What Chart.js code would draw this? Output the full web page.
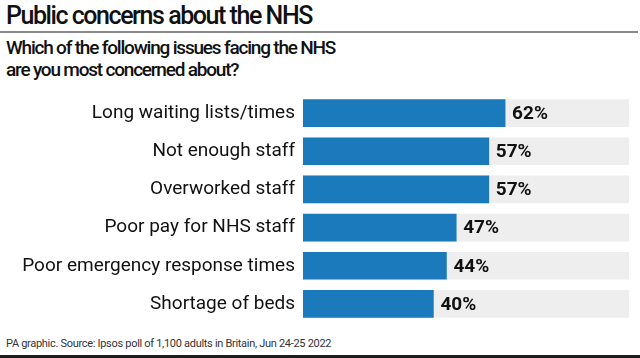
<!DOCTYPE html>
<html>
<head>
<meta charset="utf-8">
<script src="https://cdn.jsdelivr.net/npm/chart.js@4/dist/chart.umd.min.js"></script>
<style>
  html, body { margin: 0; padding: 0; background: #ffffff; }
  body { width: 640px; height: 358px; position: relative; overflow: hidden; font-family: Roboto, "Liberation Sans", sans-serif; color: #111; }
  #title { position: absolute; left: 6px; top: 1px; font-size: 25px; font-weight: 500; line-height: 30px; letter-spacing: -1.45px; }
  #rule { position: absolute; left: 0; top: 31px; width: 638px; height: 2px; background: #8a8a8a; }
  #subtitle { position: absolute; left: 6px; top: 37px; font-size: 19px; font-weight: 500; line-height: 22px; letter-spacing: -1.2px; }
  #wrap { position: absolute; left: 0; top: 94px; width: 640px; height: 229px; }
  #foot { position: absolute; left: 6px; top: 336px; font-size: 11px; line-height: 16px; color: #333; letter-spacing: -0.3px; }
  #band { position: absolute; left: 0; top: 355px; width: 640px; height: 3px; background: #1e1e1e; }
</style>
</head>
<body>
<div id="title">Public concerns about the NHS</div>
<div id="rule"></div>
<div id="subtitle">Which of the following issues facing the NHS<br>are you most concerned about?</div>
<div id="wrap"><canvas id="c"></canvas></div>
<div id="foot">PA graphic. Source: Ipsos poll of 1,100 adults in Britain, Jun 24-25 2022</div>
<div id="band"></div>
<script>
const categories = [
  "Long waiting lists/times",
  "Not enough staff",
  "Overworked staff",
  "Poor pay for NHS staff",
  "Poor emergency response times",
  "Shortage of beds"
];
const values = [62, 57, 57, 47, 44, 40];
const trackValues = [100, 100, 100, 100, 100, 100];

const valueLabels = {
  id: 'valueLabels',
  afterDatasetsDraw(chart) {
    const ctx = chart.ctx;
    const meta = chart.getDatasetMeta(0);
    ctx.save();
    ctx.font = '700 19px Roboto, "Liberation Sans", sans-serif';
    ctx.fillStyle = '#111';
    ctx.textAlign = 'left';
    ctx.textBaseline = 'middle';
    meta.data.forEach((bar, i) => {
      ctx.fillText(values[i] + '%', bar.x + 7, bar.y + 1);
    });
    ctx.restore();
  }
};

new Chart(document.getElementById('c'), {
  type: 'bar',
  data: {
    labels: categories,
    datasets: [
      { data: values, backgroundColor: '#1a7abb', order: 0, grouped: false },
      { data: trackValues, backgroundColor: '#eeeeee', order: 1, grouped: false }
    ]
  },
  options: {
    indexAxis: 'y',
    responsive: true,
    maintainAspectRatio: false,
    animation: false,
    layout: { padding: { left: 0, right: 11, top: 0, bottom: 0 } },
    barThickness: 27,
    plugins: { legend: { display: false }, tooltip: { enabled: false }, title: { display: false } },
    scales: {
      x: { display: false, min: 0, max: 100 },
      y: {
        grid: { display: false, drawTicks: false },
        border: { display: false },
        afterFit: (s) => { s.width = 303; s.paddingTop = 0; s.paddingBottom = 0; },
        ticks: {
          padding: 8,
          color: '#111',
          font: { family: 'Roboto, "Liberation Sans", sans-serif', size: 19 }
        }
      }
    }
  },
  plugins: [valueLabels]
});
</script>
</body>
</html>
